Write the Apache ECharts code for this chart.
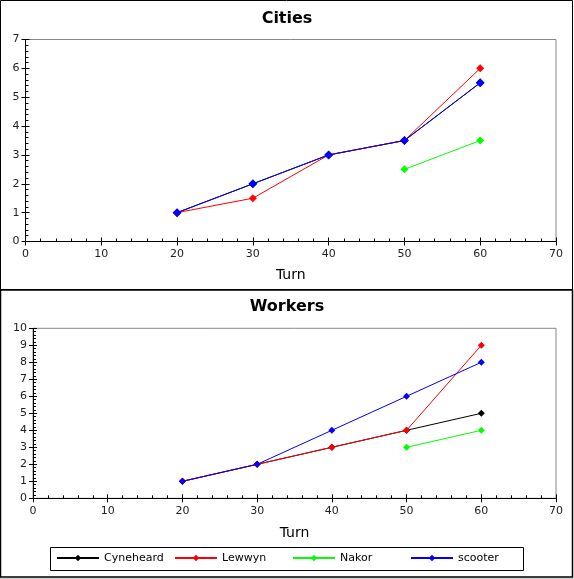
<!DOCTYPE html>
<html>
<head>
<meta charset="utf-8">
<script src="https://cdn.jsdelivr.net/npm/echarts@6/dist/echarts.min.js"></script>
<style>
html,body{margin:0;padding:0;background:#fff}
#chart{width:574px;height:579px}
</style>
</head>
<body>
<div id="chart"></div>
<script>
var players = ['Cyneheard', 'Lewwyn', 'Nakor', 'scooter'];
var colors = ['#000000', '#ff0000', '#00ff00', '#0000ff'];
var turns = [20, 30, 40, 50, 60];
var turnTicks = [0, 10, 20, 30, 40, 50, 60, 70];

// cities per player, one value per turn (null = not yet playing)
var citiesCyneheard = [1, 2, 3, 3.5, 5.5];
var citiesLewwyn = [1, 1.5, 3, 3.5, 6];
var citiesNakor = [null, null, null, 2.5, 3.5];
var citiesScooter = [1, 2, 3, 3.5, 5.5];

// workers per player
var workersCyneheard = [1, 2, 3, 4, 5];
var workersLewwyn = [1, 2, 3, 4, 9];
var workersNakor = [null, null, null, 3, 4];
var workersScooter = [1, 2, 4, 6, 8];

var citiesTicks = [0, 1, 2, 3, 4, 5, 6, 7];
var workersTicks = [0, 1, 2, 3, 4, 5, 6, 7, 8, 9, 10];

var FONT = 'DejaVu Sans';

function pairs(vals){
    var out = [];
    for (var i = 0; i < turns.length; i++) {
        if (vals[i] != null) out.push([turns[i], vals[i]]);
    }
    return out;
}

// main axis: line, labels, inner ticks + minor ticks
function mainAxis(grid, ticks, opts){
    var a = {
        type: 'value', gridIndex: grid,
        min: ticks[0], max: ticks[ticks.length - 1], interval: ticks[1] - ticks[0],
        axisLine: {onZero: false, lineStyle: {color: '#000', width: 1}},
        axisTick: {inside: true, length: 4, lineStyle: {color: '#000'}},
        minorTick: {show: true, splitNumber: 5, length: 3, lineStyle: {color: '#000'}},
        axisLabel: {fontSize: 11, color: '#222', fontFamily: FONT, margin: 6},
        splitLine: {show: false}, minorSplitLine: {show: false}
    };
    for (var k in opts) a[k] = opts[k];
    return a;
}
// overlay axis: only outer major ticks
function tickAxis(grid, ticks){
    return {
        type: 'value', gridIndex: grid,
        min: ticks[0], max: ticks[ticks.length - 1], interval: ticks[1] - ticks[0],
        axisLine: {show: false, onZero: false},
        axisTick: {show: true, inside: false, length: 4, lineStyle: {color: '#000'}},
        axisLabel: {show: false}, splitLine: {show: false}
    };
}

function turnAxis(grid, gap){
    return mainAxis(grid, turnTicks, {
        name: 'Turn', nameLocation: 'middle', nameGap: gap,
        nameTextStyle: {fontSize: 14, color: '#000', fontFamily: FONT},
        axisLabel: {fontSize: 11, color: '#222', fontFamily: FONT, margin: 7}
    });
}

function lineSeries(name, idx, vals, axis, size){
    return {
        name: name, type: 'line', data: pairs(vals),
        xAxisIndex: axis, yAxisIndex: axis,
        symbol: 'diamond', symbolSize: size,
        color: colors[idx],
        lineStyle: {width: 1, color: colors[idx]},
        itemStyle: {color: colors[idx]},
        animation: false
    };
}

var grids = [
    {left: 25.5, top: 39.5, width: 530.5, height: 202},
    {left: 33, top: 328.3, width: 523, height: 170}
];
grids = grids.concat(grids.map(function(g){ return Object.assign({}, g); }));
grids[0].show = grids[1].show = true;
grids[0].borderColor = grids[1].borderColor = '#888';
grids[0].borderWidth = grids[1].borderWidth = 1;

var legendX = [56, 174, 292, 410];

var chart = echarts.init(document.getElementById('chart'));
chart.setOption({
    backgroundColor: '#fff',
    title: [
        {text: 'Cities', left: 'center', top: 6, textStyle: {fontSize: 16, fontWeight: 'bold', color: '#000', fontFamily: FONT}},
        {text: 'Workers', left: 'center', top: 294, textStyle: {fontSize: 16, fontWeight: 'bold', color: '#000', fontFamily: FONT}}
    ],
    grid: grids,
    xAxis: [
        turnAxis(0, 27),
        turnAxis(1, 28),
        tickAxis(2, turnTicks),
        tickAxis(3, turnTicks)
    ],
    yAxis: [
        mainAxis(0, citiesTicks, {}),
        mainAxis(1, workersTicks, {}),
        tickAxis(2, citiesTicks),
        tickAxis(3, workersTicks)
    ],
    legend: legendX.map(function(x, i){
        return {
            data: [players[i]], left: x, top: 552.5, padding: 0,
            itemWidth: 42, itemHeight: 8, itemGap: 0,
            textStyle: {fontSize: 11, color: '#000', fontFamily: FONT},
            selectedMode: false
        };
    }),
    series: [
        lineSeries('Cyneheard', 0, citiesCyneheard, 0, 8),
        lineSeries('Lewwyn', 1, citiesLewwyn, 0, 8),
        lineSeries('Nakor', 2, citiesNakor, 0, 8),
        lineSeries('scooter', 3, citiesScooter, 0, 9),
        lineSeries('Cyneheard', 0, workersCyneheard, 1, 7),
        lineSeries('Lewwyn', 1, workersLewwyn, 1, 7),
        lineSeries('Nakor', 2, workersNakor, 1, 7),
        lineSeries('scooter', 3, workersScooter, 1, 7)
    ],
    graphic: [
        // panel frames and legend box
        {type: 'rect', shape: {x: 0.5, y: 0.5, width: 572, height: 289}, style: {fill: null, stroke: '#000', lineWidth: 1}},
        {type: 'rect', shape: {x: 0.5, y: 290, width: 572, height: 287}, style: {fill: null, stroke: '#000', lineWidth: 1.5}},
        {type: 'rect', shape: {x: 0, y: 578, width: 574, height: 1}, style: {fill: '#cfcfcf'}},
        {type: 'rect', shape: {x: 50.5, y: 547.5, width: 473, height: 23}, style: {fill: null, stroke: '#000', lineWidth: 1}}
    ]
});
</script>
</body>
</html>
